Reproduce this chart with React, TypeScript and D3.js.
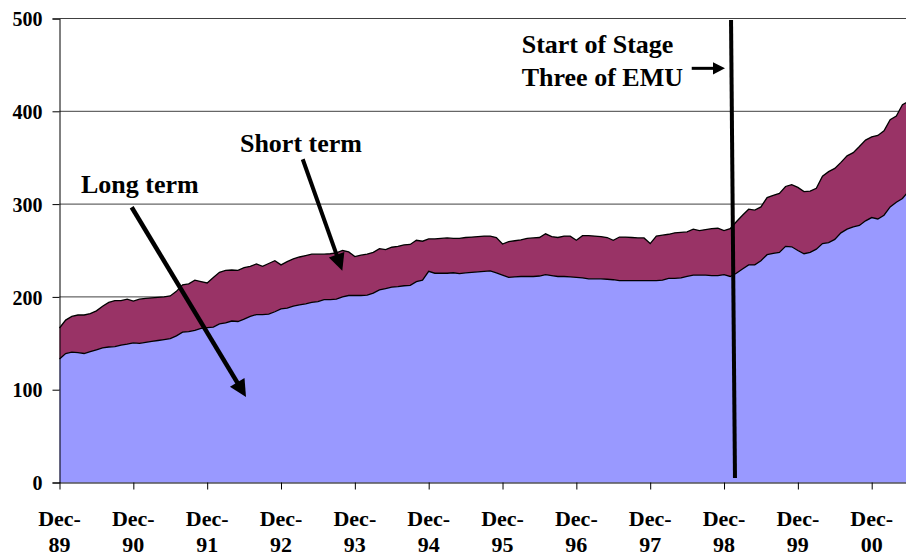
import React, { useRef, useEffect } from "react";
import * as d3 from "d3";

// monthly stock, Dec-89 onwards (EUR billions)
const LONG_TERM = [
  133, 139, 140.5, 140, 139, 141, 143, 145, 146, 146.5, 148, 149,
  150.5, 150, 151, 152, 153, 154, 155, 158, 162, 162.5, 164, 166,
  167, 167.5, 171, 172, 174, 173.5, 176, 179, 181, 181, 181.5, 184,
  187, 188, 190, 191.5, 192.5, 194, 195, 197, 197, 197.5, 200, 201.5,
  201.5, 201.5, 202, 204, 207.5, 209, 210.5, 211, 212, 212.5, 216.5, 218,
  227.5, 225.5, 225.5, 225.5, 226, 225, 226, 226.5, 227, 227.5, 228, 226,
  223.5, 221, 221.5, 222, 222, 222, 222.5, 224, 223, 222, 222, 221.5,
  221, 220.5, 219.5, 219.5, 219.5, 219, 218.5, 217.5, 217.5, 217.5, 217.5, 217.5,
  217.5, 217.5, 218, 220, 220, 220.5, 222, 223.5, 223.5, 223.5, 223, 223,
  224, 222, 225.5, 230, 234.5, 234.5, 239, 245.5, 247, 248, 254.5, 254,
  250, 246.5, 248, 251.5, 257.5, 258.5, 262, 269, 273, 275.5, 277, 282,
  285.5, 284, 288, 297, 302, 306, 314,
];

const SHORT_TERM = [
  33.5, 36, 38.5, 40.5, 41.5, 41, 42, 45, 48, 49.5, 48, 48.5,
  45, 47.5, 47.5, 47, 46.5, 46, 46, 48, 51, 51.5, 54, 50.5,
  48, 53.5, 55.5, 56.5, 55, 55, 55.5, 54, 54.5, 52, 54.5, 55,
  47.5, 50, 51, 51.5, 52, 52, 51, 49, 49.5, 50, 50, 47,
  42, 43.5, 44, 44, 44.5, 42, 43, 43.5, 44, 44, 44.5, 42,
  35, 37, 37.5, 38, 37, 38, 38, 38, 38, 38, 37.5, 38,
  33.5, 38.5, 39, 39.5, 41, 41.5, 41.5, 44, 42, 42, 43.5, 44,
  40, 45.5, 46.5, 46, 45.5, 45, 42.5, 47, 47, 46.5, 46, 46,
  40, 48, 48.5, 47.5, 49, 49, 48, 49.5, 48, 49, 50.5, 51,
  47.5, 51.5, 55.5, 58, 60, 59, 58, 61.5, 62.5, 63.5, 64.5, 67,
  68, 67, 66, 65.5, 72.5, 76.5, 76.5, 76, 79, 80, 85, 87,
  87, 90, 91, 94, 93, 101, 97,
];

const TICK_MONTHS = [0, 12, 24, 36, 48, 60, 72, 84, 96, 108, 120, 132];
const TICK_YEARS = ["89", "90", "91", "92", "93", "94", "95", "96", "97", "98", "99", "00"];
const Y_TICKS = [0, 100, 200, 300, 400, 500];

const FONT = "'Liberation Serif', 'Times New Roman', serif";

export default function App() {
  const svgRef = useRef<SVGSVGElement>(null);
  const width = 906;
  const height = 557;

  useEffect(() => {
    document.body.style.margin = "0";
    if (!svgRef.current) return;
    const svg = d3.select(svgRef.current);
    svg.selectAll("*").remove();

    const x = d3.scaleLinear().domain([0, 132]).range([59.5, 871.7]);
    const y = d3.scaleLinear().domain([0, 500]).range([482.5, 18.5]);

    // gridlines
    svg
      .append("g")
      .selectAll("line")
      .data(Y_TICKS.filter((d) => d > 0))
      .join("line")
      .attr("x1", x(0))
      .attr("x2", width)
      .attr("y1", (d) => y(d))
      .attr("y2", (d) => y(d))
      .attr("stroke", "#404040")
      .attr("stroke-width", 1);

    // stacked areas
    const rows = LONG_TERM.map((v, i) => ({ i, long: v, short: SHORT_TERM[i] }));
    const stacked = d3.stack<any>().keys(["long", "short"])(rows);
    const area = d3
      .area<any>()
      .x((d) => x(d.data.i))
      .y0((d) => y(d[0]))
      .y1((d) => y(d[1]));
    const topLine = d3
      .line<any>()
      .x((d) => x(d.data.i))
      .y((d) => y(d[1]));
    const fills = ["#9999FF", "#993366"];

    stacked.forEach((s, k) => {
      svg.append("path").datum(s).attr("d", area).attr("fill", fills[k]);
    });
    stacked.forEach((s) => {
      svg
        .append("path")
        .datum(s)
        .attr("d", topLine)
        .attr("fill", "none")
        .attr("stroke", "#000")
        .attr("stroke-width", 1.3);
    });

    // Y axis
    const yAxis = d3
      .axisLeft(y)
      .tickValues(Y_TICKS)
      .tickSize(7)
      .tickPadding(10)
      .tickFormat((d) => `${d}`);
    const gy = svg.append("g").attr("transform", `translate(${x(0)},0)`).call(yAxis);
    gy.select(".domain").attr("stroke", "#000");
    gy.selectAll("text")
      .attr("dy", "0.36em")
      .style("font-family", FONT)
      .style("font-size", "20px")
      .style("font-weight", "bold")
      .style("fill", "#000");

    // X axis
    const xAxis = d3
      .axisBottom(x)
      .tickValues(TICK_MONTHS)
      .tickSize(7)
      .tickFormat(() => "");
    const gx = svg
      .append("g")
      .attr("transform", `translate(0,${y(0)})`)
      .call(xAxis);
    gx.select(".domain").attr("d", `M${x(0)},0.5H${width}`).attr("stroke", "#000");

    const xl = svg
      .append("g")
      .selectAll("text")
      .data(TICK_MONTHS)
      .join("text")
      .attr("text-anchor", "middle")
      .style("font-family", FONT)
      .style("font-size", "22px")
      .style("font-weight", "bold");
    xl.append("tspan").attr("x", (d) => x(d)).attr("y", 526).text("Dec-");
    xl.append("tspan")
      .attr("x", (d) => x(d))
      .attr("y", 552)
      .text((_d, i) => TICK_YEARS[i]);

    // arrows
    const arrow = (
      from: [number, number],
      to: [number, number],
      w: number,
      headLen: number,
      headHalf: number
    ) => {
      const x1 = x(from[0]);
      const y1 = y(from[1]);
      const x2 = x(to[0]);
      const y2 = y(to[1]);
      const len = Math.hypot(x2 - x1, y2 - y1);
      const ux = (x2 - x1) / len;
      const uy = (y2 - y1) / len;
      const bx = x2 - ux * headLen;
      const by = y2 - uy * headLen;
      svg
        .append("line")
        .attr("x1", x1)
        .attr("y1", y1)
        .attr("x2", bx + ux * 2)
        .attr("y2", by + uy * 2)
        .attr("stroke", "#000")
        .attr("stroke-width", w);
      svg
        .append("polygon")
        .attr(
          "points",
          `${x2},${y2} ${bx - uy * headHalf},${by + ux * headHalf} ${bx + uy * headHalf},${by - ux * headHalf}`
        )
        .attr("fill", "#000");
    };

    // Stage Three marker
    svg
      .append("line")
      .attr("x1", x(109.14))
      .attr("y1", y(498.4))
      .attr("x2", x(109.78))
      .attr("y2", y(4.8))
      .attr("stroke", "#000")
      .attr("stroke-width", 4);

    arrow([11.73, 296.6], [30.31, 92.1], 4.5, 17, 8.5);
    arrow([39.53, 348.3], [45.96, 228.2], 4, 17, 8.2);
    arrow([102.75, 446.3], [108.16, 446.3], 3, 12, 6.2);

    const label = (txt: string, at: [number, number]) =>
      svg
        .append("text")
        .attr("x", x(at[0]))
        .attr("y", y(at[1]))
        .style("font-family", FONT)
        .style("font-size", "26px")
        .style("font-weight", "bold")
        .text(txt);

    label("Long term", [3.49, 312.0]);
    label("Short term", [29.33, 356.1]);
    label("Start of Stage", [75.12, 462.5]);
    label("Three of EMU", [75.12, 427.3]);
  }, []);

  return (
    <svg
      ref={svgRef}
      width={width}
      height={height}
      style={{ display: "block", background: "#fff" }}
      viewBox={`0 0 ${width} ${height}`}
    />
  );
}
